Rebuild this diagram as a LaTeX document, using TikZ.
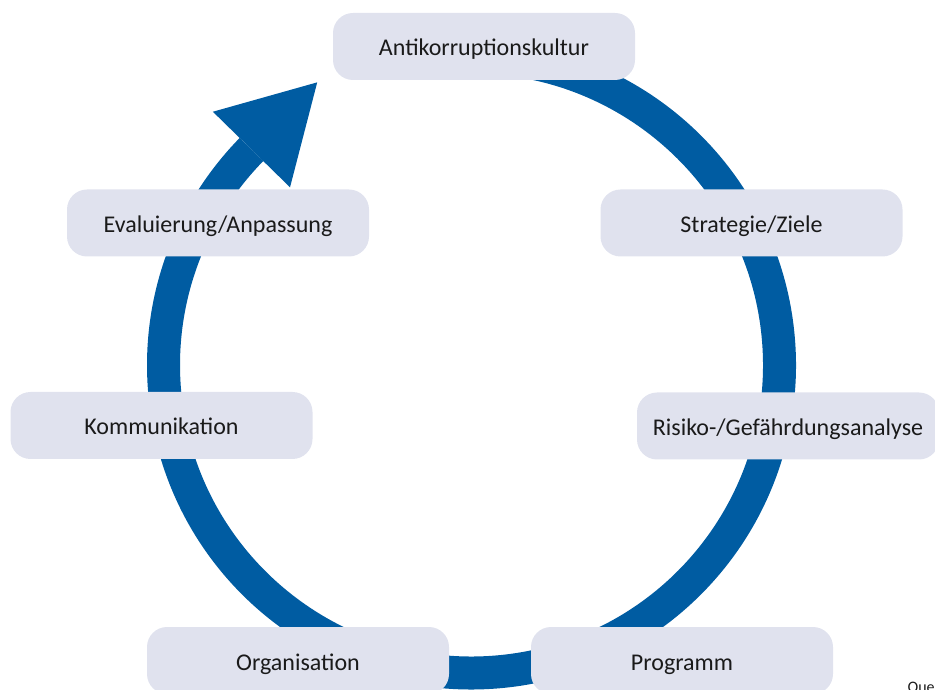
\documentclass[tikz,border=0pt]{standalone}
\usepackage{fontspec}
\setmainfont{Carlito}
\usetikzlibrary{calc}

\definecolor{ringblue}{RGB}{0,92,162}
\definecolor{boxfill}{RGB}{224,226,238}
\definecolor{textgray}{RGB}{26,26,26}

\begin{document}
\begin{tikzpicture}[
    x=1pt, y=1pt,
    every node/.style={font=\fontsize{24}{29}\selectfont, text=textgray},
    phase/.style={fill=boxfill, rounded corners=20pt, minimum width=302pt, minimum height=67pt,
        text height=22pt, text depth=3pt, align=center},
    ring/.style={draw=ringblue, line width=33pt}
]
\useasboundingbox (0,0) rectangle (935,689);
\clip (0,0) rectangle (935,689);
\coordinate (c) at (471.5,324);

% cycle ring and its head
\draw[ring] ($(c)+(95:308)$) arc[start angle=95, end angle=-224.4, radius=308];
\fill[ringblue] ($(c)+(135.6:362)$) -- ($(c)+(135.6:308)+(45.6:94)$) -- ($(c)+(135.6:254)$) -- cycle;

\node[phase] (kultur) at (484,642.5) {Antikorruptionskultur};
\node[phase] (ziele) at (751.5,466) {Strategie/Ziele};
\node[phase] (risiko) at (788,263) {Risiko-/Gefährdungsanalyse};
\node[phase] (programm) at (682,28.5) {Programm};
\node[phase] (organisation) at (298,28.5) {Organisation};
\node[phase] (kommunikation) at (161.5,263.5) {Kommunikation};
\node[phase] (evaluierung) at (218,466) {Evaluierung/Anpassung};

\node[anchor=base west, font=\fontsize{16}{19}\selectfont] (quelle) at (904,-3) {Quelle:};
\end{tikzpicture}
\end{document}
